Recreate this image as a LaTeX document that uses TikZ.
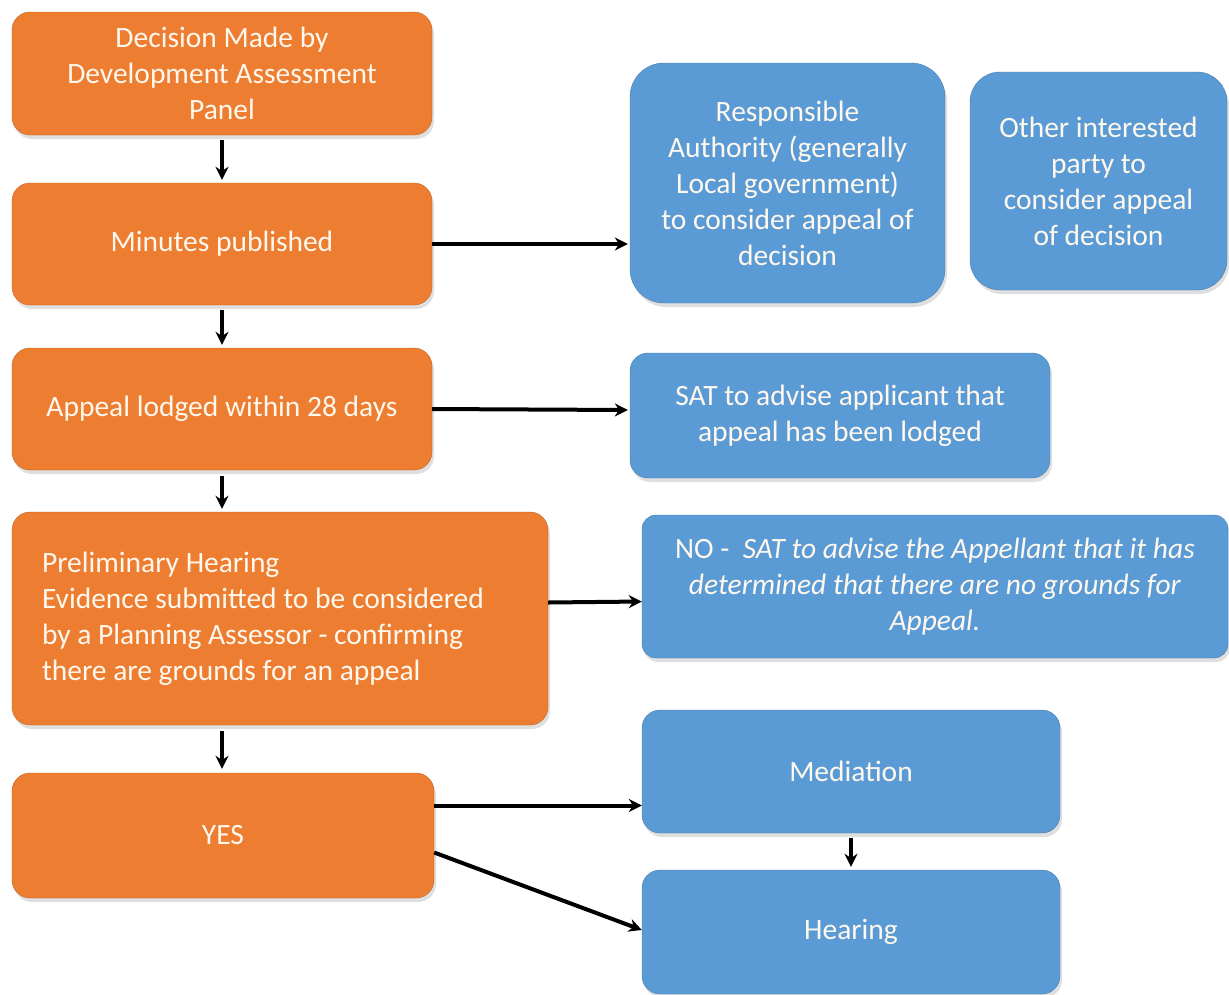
\documentclass[tikz,border=0pt]{standalone}
\usepackage{fontspec}
\setmainfont{Carlito}
\usetikzlibrary{arrows.meta,shadows,calc}
\definecolor{orangebox}{HTML}{ED7D31}
\definecolor{bluebox}{HTML}{5B9BD5}
\definecolor{txt}{HTML}{FFF8EE}
\tikzset{
  basebox/.style={rounded corners=18pt, text=txt, align=center, inner sep=0pt,
    font=\fontsize{29.5}{36}\selectfont,
    drop shadow={shadow xshift=2pt, shadow yshift=-4pt, opacity=0.25}},
  obox/.style={basebox, fill=orangebox, draw=orangebox!80!black, line width=0.4pt},
  bbox/.style={basebox, fill=bluebox, draw=bluebox!80!black, line width=0.4pt},
  conn/.style={line width=4pt, -{Stealth[length=13pt,width=13pt]}}
}
\begin{document}
\begin{tikzpicture}[x=1pt,y=-1pt]
\useasboundingbox (0,0) rectangle (1229,994);
% orange column
\node[obox, minimum width=420pt, minimum height=123pt] (o1) at (222,73.5)
  {Decision Made by\\Development Assessment\\Panel};
\node[obox, minimum width=420pt, minimum height=122pt] (o2) at (222,244)
  {Minutes published};
\node[obox, minimum width=420pt, minimum height=122pt] (o3) at (222,409)
  {Appeal lodged within 28 days};
\node[obox, minimum width=536pt, minimum height=213pt] (o4) at (280,618.5) {};
\node[anchor=west, align=left, inner sep=0pt, text=txt, font=\fontsize{29.5}{36}\selectfont] (o4t) at ($(o4.west)+(30,0)$)
  {Preliminary Hearing\\Evidence submitted to be considered\\by a Planning Assessor - confirming\\there are grounds for an appeal};
\node[obox, minimum width=422pt, minimum height=125pt] (o5) at (223,835.5)
  {YES};
% blue boxes
\node[bbox, rounded corners=34pt, minimum width=315pt, minimum height=240pt] (b1) at (787.5,183)
  {Responsible\\Authority (generally\\Local government)\\to consider appeal of\\decision};
\node[bbox, rounded corners=30pt, minimum width=257pt, minimum height=218pt] (b2) at (1098.5,181)
  {Other interested\\party to\\consider appeal\\of decision};
\node[bbox, minimum width=420pt, minimum height=125pt] (b3) at (840,415.5)
  {SAT to advise applicant that\\appeal has been lodged};
\node[bbox, rounded corners=14pt, minimum width=586pt, minimum height=143pt] (b4) at (935,586.5)
  {NO -\ \ \textit{SAT to advise the Appellant that it has}\\\textit{determined that there are no grounds for}\\\textit{Appeal.}};
\node[bbox, minimum width=418pt, minimum height=123pt] (b5) at (851,771.5)
  {Mediation};
\node[bbox, minimum width=418pt, minimum height=124pt] (b6) at (851,932)
  {Hearing};
% connectors
\coordinate (a1s) at ($(o1.south)+(0,5)$);
\coordinate (a1e) at ($(o2.north)+(0,-3)$);
\draw[conn] (a1s) -- (a1e);
\coordinate (a2s) at ($(o2.south)+(0,5)$);
\coordinate (a2e) at ($(o3.north)+(0,-3)$);
\draw[conn] (a2s) -- (a2e);
\coordinate (a3s) at ($(o3.south)+(0,6)$);
\coordinate (a3e) at ($(o4.north)+(-58,-3)$);
\draw[conn] (a3s) -- (a3e);
\coordinate (a4s) at ($(o4.south)+(-58,6)$);
\coordinate (a4e) at ($(o5.north)+(-1,-4)$);
\draw[conn] (a4s) -- (a4e);
\draw[conn] (o2.east) -- ($(b1.west)+(-2,61)$);
\draw[conn] (o3.east) -- ($(b3.west)+(-2,-5.5)$);
\draw[conn] ($(o4.east)+(0,-16)$) -- ($(b4.west)+(0,15)$);
\draw[conn] ($(o5.east)+(0,-30)$) -- ($(b5.west)+(0,34)$);
\draw[conn] ($(o5.east)+(0,17)$) -- ($(b6.west)+(0,-2)$);
\coordinate (a5s) at ($(b5.south)+(0,5)$);
\coordinate (a5e) at ($(b6.north)+(0,-3)$);
\draw[conn] (a5s) -- (a5e);
\end{tikzpicture}
\end{document}
